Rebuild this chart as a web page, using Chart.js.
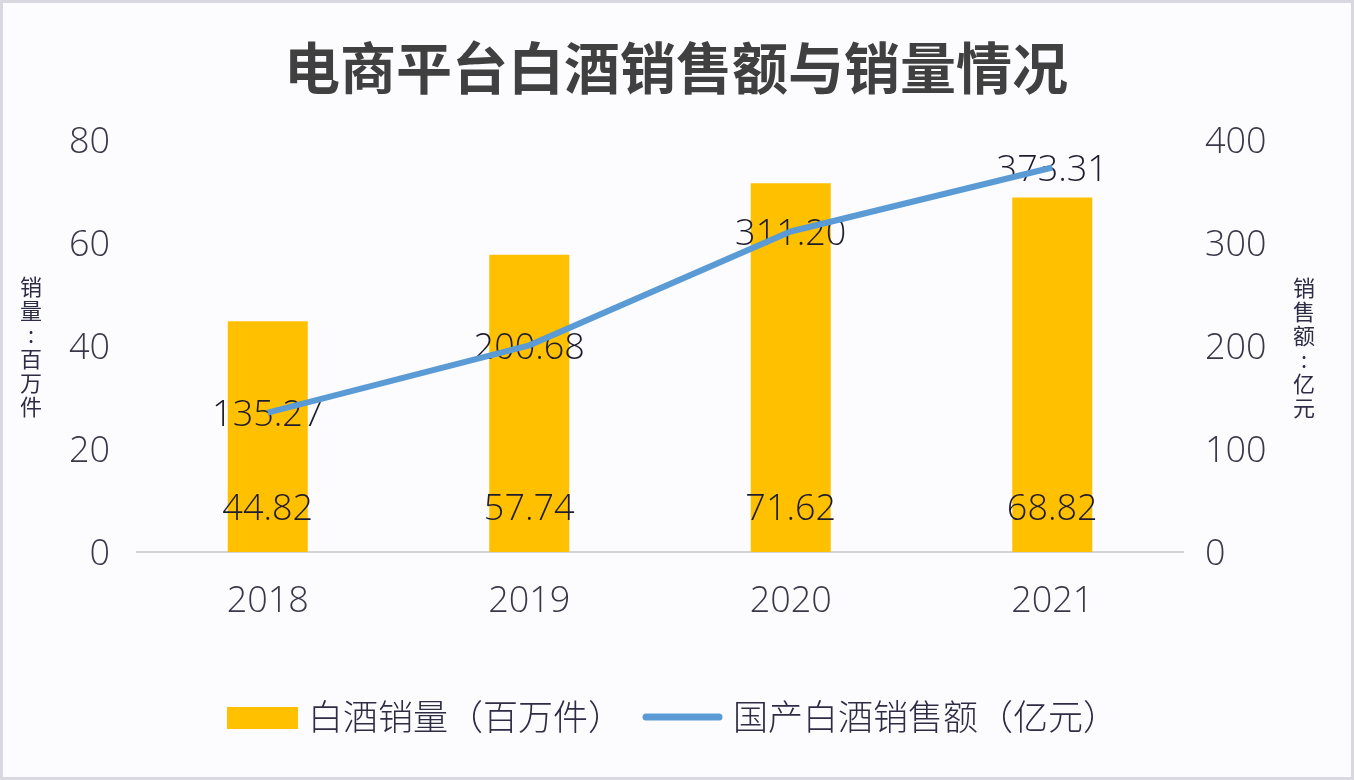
<!DOCTYPE html>
<html>
<head>
<meta charset="utf-8">
<script src="https://cdn.jsdelivr.net/npm/chart.js@4"></script>
<style>
  html, body { margin: 0; padding: 0; background: #fcfcfe; }
  #wrap { width: 1354px; height: 780px; position: relative; }
</style>
</head>
<body>
<div id="wrap"><canvas id="chart" width="1354" height="780"></canvas></div>
<script>
// 数据
const years = ['2018', '2019', '2020', '2021'];
const salesVolume = [44.82, 57.74, 71.62, 68.82];      // 白酒销量（百万件）
const salesAmount = [135.27, 200.68, 311.20, 373.31];  // 国产白酒销售额（亿元）
const volumeTicks = [0, 20, 40, 60, 80];
const amountTicks = [0, 100, 200, 300, 400];

const FONT = '"Noto Sans CJK SC", "Noto Sans", sans-serif';
const NUM_FONT = '"Open Sans", "Noto Sans CJK SC", sans-serif';
const BAR_COLOR = '#ffc000';
const LINE_COLOR = '#5b9bd5';

// 背景、标题、轴标题、图例
const decorPlugin = {
    id: 'decor',
    beforeDraw(chart) {
        const ctx = chart.ctx;
        ctx.save();
        ctx.fillStyle = '#fcfcfe';
        ctx.fillRect(0, 0, chart.width, chart.height);
        ctx.strokeStyle = '#d9d8e0';
        ctx.lineWidth = 3;
        ctx.strokeRect(1.5, 1.5, chart.width - 3, chart.height - 3);
        ctx.restore();
    },
    afterDraw(chart) {
        const ctx = chart.ctx;
        ctx.save();
        // 标题
        ctx.fillStyle = '#404040';
        ctx.font = 'bold 56px ' + FONT;
        ctx.textAlign = 'center';
        ctx.textBaseline = 'middle';
        ctx.fillText('电商平台白酒销售额与销量情况', 676, 68);

        // 纵向轴标题
        ctx.fillStyle = '#2e2b45';
        ctx.font = '22px ' + FONT;
        const drawVertical = (chars, x, y0) => {
            chars.forEach((c, i) => ctx.fillText(c, x, y0 + i * 24));
        };
        drawVertical(['销', '量', ':', '百', '万', '件'], 31, 287);
        drawVertical(['销', '售', '额', ':', '亿', '元'], 1304, 288);

        // 图例
        ctx.fillStyle = BAR_COLOR;
        ctx.fillRect(227, 707, 71, 22);
        ctx.strokeStyle = LINE_COLOR;
        ctx.lineWidth = 7;
        ctx.lineCap = 'round';
        ctx.beginPath();
        ctx.moveTo(646, 717);
        ctx.lineTo(719, 717);
        ctx.stroke();
        ctx.fillStyle = '#2e2b45';
        ctx.font = '300 35px ' + FONT;
        ctx.textAlign = 'left';
        ctx.fillText('白酒销量（百万件）', 308, 717);
        ctx.fillText('国产白酒销售额（亿元）', 733, 717);
        ctx.restore();
    }
};

// 数据标签：画在柱子之后、折线之前
const labelPlugin = {
    id: 'valueLabels',
    afterDatasetDraw(chart, args) {
        if (args.index !== 0) return;
        const ctx = chart.ctx;
        ctx.save();
        ctx.fillStyle = '#1e1c2c';
        ctx.font = '300 36px ' + NUM_FONT;
        ctx.textAlign = 'center';
        ctx.textBaseline = 'middle';
        chart.getDatasetMeta(0).data.forEach((bar, i) => {
            ctx.fillText(salesVolume[i].toFixed(2), bar.x, bar.base - 42);
        });
        chart.getDatasetMeta(1).data.forEach((pt, i) => {
            ctx.fillText(salesAmount[i].toFixed(2), pt.x, pt.y + 3);
        });
        ctx.restore();
    }
};

new Chart(document.getElementById('chart'), {
    data: {
        labels: years,
        datasets: [{
            type: 'bar',
            label: '白酒销量（百万件）',
            data: salesVolume,
            backgroundColor: BAR_COLOR,
            yAxisID: 'y',
            barPercentage: 0.306,
            categoryPercentage: 1,
            order: 2
        }, {
            type: 'line',
            label: '国产白酒销售额（亿元）',
            data: salesAmount,
            borderColor: LINE_COLOR,
            borderWidth: 6,
            pointRadius: 0,
            tension: 0,
            yAxisID: 'y1',
            order: 1
        }]
    },
    options: {
        responsive: false,
        animation: false,
        layout: {
            padding: { top: 140, bottom: 138, left: 0, right: 0 }
        },
        plugins: {
            legend: { display: false },
            title: { display: false },
            tooltip: { enabled: false }
        },
        scales: {
            x: {
                grid: { display: false },
                border: { display: true, color: '#d4d4d8', width: 2 },
                ticks: {
                    color: '#3a3848',
                    padding: 20,
                    font: { family: NUM_FONT, size: 36, weight: 300 }
                },
                afterFit(scale) { scale.height = 90; }
            },
            y: {
                position: 'left',
                min: 0,
                max: 80,
                afterBuildTicks(scale) { scale.ticks = volumeTicks.map(v => ({ value: v })); },
                grid: { display: false },
                border: { display: false },
                ticks: {
                    color: '#3a3848',
                    padding: 19,
                    labelOffset: 3,
                    font: { family: NUM_FONT, size: 36, weight: 300 }
                },
                afterFit(scale) { scale.width = 137; }
            },
            y1: {
                position: 'right',
                min: 0,
                max: 400,
                afterBuildTicks(scale) { scale.ticks = amountTicks.map(v => ({ value: v })); },
                grid: { display: false },
                border: { display: false },
                ticks: {
                    color: '#3a3848',
                    padding: 14,
                    labelOffset: 3,
                    font: { family: NUM_FONT, size: 36, weight: 300 }
                },
                afterFit(scale) { scale.width = 171; }
            }
        }
    },
    plugins: [decorPlugin, labelPlugin]
});
</script>
</body>
</html>
